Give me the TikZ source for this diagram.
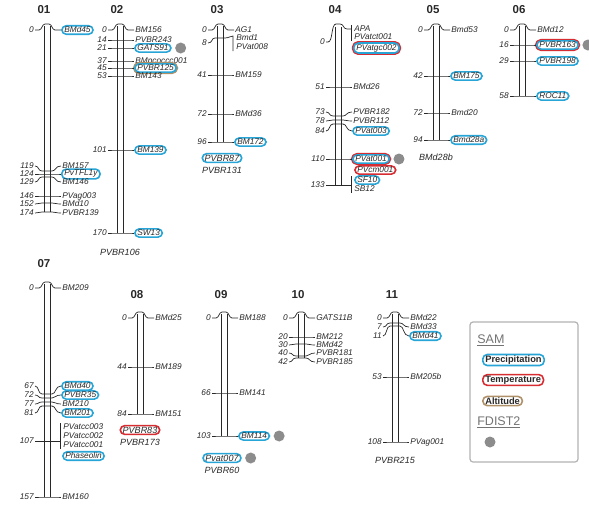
\documentclass[tikz,border=0pt]{standalone}
\usepackage{fontspec}
\setmainfont{Liberation Sans}
\usetikzlibrary{positioning}
\definecolor{precblue}{RGB}{40,165,215}
\definecolor{tempred}{RGB}{215,45,50}
\definecolor{alttan}{RGB}{175,145,105}
\definecolor{dotgray}{RGB}{140,140,140}
\definecolor{inkgray}{RGB}{40,40,40}
\begin{document}
\begin{tikzpicture}[x=1pt,y=-1pt,line width=0.7pt,draw=inkgray,
  every node/.style={font=\fontsize{8.3}{9}\selectfont\itshape,inner sep=1pt,text=inkgray},
  cmlab/.style={anchor=east},
  mklab/.style={anchor=west},
  plain/.style={},
  pill/.style={rounded corners=4.5pt,line join=round,line width=1.6pt,inner xsep=2.5pt,inner ysep=1.2pt},
  prec/.style={pill,draw=precblue},
  temp/.style={pill,draw=tempred},
  alt/.style={pill,draw=alttan},
  tempprec/.style={prec,fill=white,preaction={draw=tempred,line width=4pt,line join=round}},
  altprec/.style={prec,fill=white,preaction={draw=alttan,line width=4pt,line join=round}},
  chrtitle/.style={font=\fontsize{11.5}{13}\selectfont\bfseries},
  unmapped/.style={font=\fontsize{9}{10}\selectfont\itshape},
  fdot/.style={circle,fill=dotgray,minimum size=11pt,inner sep=0pt},
  legtitle/.style={font=\fontsize{12.5}{14}\selectfont,text=gray!90!black,anchor=west},
  legitem/.style={font=\fontsize{9.3}{10}\selectfont\bfseries,anchor=west}]
  \useasboundingbox (0,0) rectangle (589,509);

  % chromosome bars and titles
  \foreach \c/\cx/\yt/\yb/\ytitle in {01/47/30/212/10,02/120/30/233/10,03/220/30/142/10,04/338/31/185/10,05/436/30/140/10,06/522/30/96/10,07/47/288/497/264,08/140/318/414/295,09/224/318/436/295,10/301/318/358/295,11/395/318/442/295}{
    \node[chrtitle] (t\c) at (\cx-3,\ytitle) {\c};
    \draw (\cx-3,\yt-4) -- (\cx-3,\yb) (\cx+3,\yt-4) -- (\cx+3,\yb);
  }

  % top markers (0 cM), line arched over the bar end
  \foreach \c/\cx/\y/\txt/\sty in {01/47/30/BMd45/prec,02/120/30/BM156/plain,03/220/30/AG1/plain,05/436/30/Bmd53/plain,06/522/30/BMd12/plain,07/47/288/BM209/plain,08/140/318/BMd25/plain,09/224/318/BM188/plain,10/301/318/GATS11B/plain,11/395/318/BMd22/plain}{
    \node[cmlab] (p\c-0) at (\cx-12,\y) {0};
    \node[mklab,\sty] (m\c-0) at (\cx+14,\y) {\txt};
    \draw (p\c-0.east) -- (\cx-8,\y) .. controls (\cx-5,\y) and (\cx-5,\y-6) .. (\cx-2,\y-6) -- (\cx+2,\y-6)
      .. controls (\cx+5,\y-6) and (\cx+5,\y) .. (\cx+8,\y) -- (m\c-0.west);
  }

  % markers: chromosome/x/name/cM/y on bar/y of label/marker/style
  \foreach \c/\cx/\n/\p/\yb/\yl/\txt/\sty in {
    01/47/a/119/171/166/BM157/plain,01/47/b/124/174/174/PvTFL1y/prec,01/47/c/129/177/182/BM146/plain,
    01/47/d/146/196/196/PVag003/plain,01/47/e/152/203/204/BMd10/plain,01/47/f/174/212/213/PVBR139/plain,
    02/120/a/14/40/40/PVBR243/plain,02/120/b/21/48/48/GATS91/prec,02/120/c/37/61/61/BMpcoccc001/plain,
    02/120/d/45/68/68/PVBR125/altprec,02/120/e/53/76/76/BM143/plain,02/120/f/101/150/150/BM139/prec,
    02/120/g/170/233/233/SW13/prec,
    03/220/b/41/75/75/BM159/plain,03/220/c/72/114/114/BMd36/plain,03/220/d/96/142/142/BM172/prec,
    04/338/a/51/87/87/BMd26/plain,04/338/b/73/116/112/PVBR182/plain,04/338/c/78/120/121/PVBR112/plain,
    04/338/d/84/124/131/PVat003/prec,04/338/e/110/159/159/PVat001/tempprec,
    05/436/a/42/76/76/BM175/prec,05/436/b/72/113/113/Bmd20/plain,05/436/c/94/140/140/Bmd28a/prec,
    06/522/a/16/45/45/PVBR163/tempprec,06/522/b/29/61/61/PVBR198/prec,06/522/c/58/96/96/ROC11/prec,
    07/47/a/67/394/386/BMd40/prec,07/47/b/72/398/395/PVBR35/prec,07/47/c/77/402/404/BM210/plain,
    07/47/d/81/406/413/BM201/prec,07/47/f/157/497/497/BM160/plain,
    08/140/a/44/367/367/BM189/plain,08/140/b/84/414/414/BM151/plain,
    09/224/a/66/393/393/BM141/plain,09/224/b/103/436/436/BM114/prec,
    10/301/a/20/337/337/BM212/plain,10/301/b/30/344/345/BMd42/plain,10/301/c/40/356/353/PVBR181/plain,
    10/301/d/42/358/362/PVBR185/plain,
    11/395/a/7/323/327/BMd33/plain,11/395/b/11/326/336/BMd41/prec,11/395/c/53/377/377/BM205b/plain,
    11/395/d/108/442/442/PVag001/plain}{
    \node[cmlab] (p\c-\n) at (\cx-12,\yl) {\p};
    \node[mklab,\sty] (m\c-\n) at (\cx+14,\yl) {\txt};
    \draw (p\c-\n.east) .. controls (\cx-8,\yl) and (\cx-9,\yb) .. (\cx-5,\yb) -- (\cx+5,\yb)
      .. controls (\cx+9,\yb) and (\cx+8,\yl) .. (m\c-\n.west);
  }

  % grouped markers with a bracket
  \node[cmlab] (p03-8) at (208,43) {8};
  \node[mklab] (m03-a1) at (235,38) {Bmd1};
  \node[mklab] (m03-a2) at (235,47) {PVat008};
  \coordinate (k03) at (233,36);
  \draw (p03-8.east) .. controls (213,43) and (211,38) .. (215,38) -- (225,38) .. controls (229,38) and (230,36) .. (k03) -- (233,51);

  \node[cmlab] (p04-0) at (326,42) {0};
  \node[mklab] (m04-01) at (353,29) {APA};
  \node[mklab] (m04-02) at (353,37) {PVatct001};
  \node[mklab,tempprec] (m04-03) at (353,48) {PVatgc002};
  \coordinate (k04) at (351,29);
  \draw (p04-0.east) -- (328,42) .. controls (333,42) and (331,24) .. (336,24) -- (340,24)
    .. controls (344,24) and (343,29) .. (347,29) -- (k04);
  \draw (351,25) -- (351,41);

  \node[cmlab] (p04-133) at (326,185) {133};
  \node[mklab,temp] (m04-f1) at (354,170) {PVcm001};
  \node[mklab,prec] (m04-f2) at (354,180) {SF10};
  \node[mklab] (m04-f3) at (353,189) {SB12};
  \coordinate (k04b) at (351,185);
  \draw (p04-133.east) -- (k04b);
  \draw (351,176) -- (351,193);

  \node[cmlab] (p07-107) at (35,441) {107};
  \node[mklab] (m07-e1) at (62,427) {PVatcc003};
  \node[mklab] (m07-e2) at (62,436) {PVatcc002};
  \node[mklab] (m07-e3) at (62,445) {PVatcc001};
  \node[mklab,prec] (m07-e4) at (62,456) {Phaseolin};
  \coordinate (k07) at (60,441);
  \draw (p07-107.east) -- (k07);
  \draw (60,423) -- (60,449);

  % markers not placed on the map
  \node[unmapped] (u02) at (120,252) {PVBR106};
  \node[unmapped,prec] (u03a) at (222,158) {PVBR87};
  \node[unmapped] (u03b) at (222,170) {PVBR131};
  \node[unmapped] (u05) at (436,157) {BMd28b};
  \node[unmapped,temp] (u08a) at (140,430) {PVBR83};
  \node[unmapped] (u08b) at (140,442) {PVBR173};
  \node[unmapped,prec] (u09a) at (222,458) {Pvat007};
  \node[unmapped] (u09b) at (222,470) {PVBR60};
  \node[unmapped] (u11) at (395,460) {PVBR215};

  % FDIST2 outliers
  \node[fdot,right=3pt of m02-b] (d02) {};
  \node[fdot,right=3pt of m04-e] (d04) {};
  \node[fdot,right=3pt of m06-a] (d06) {};
  \node[fdot,right=3pt of m09-b] (d09) {};
  \node[fdot,right=3pt of u09a] (d09u) {};

  % legend
  \draw[gray!60,line width=1.2pt,rounded corners=3pt] (470,322) rectangle (578,462);
  \node[legtitle] (sam) at (476,340) {\underline{SAM}};
  \node[legitem,prec] (lprec) at (482,360) {Precipitation};
  \node[legitem,temp] (ltemp) at (482,380) {Temperature};
  \node[legitem,alt] (lalt) at (482,401) {Altitude};
  \node[legtitle] (fdist) at (476,422) {\underline{FDIST2}};
  \node[fdot] (ldot) at (490,442) {};
\end{tikzpicture}
\end{document}
